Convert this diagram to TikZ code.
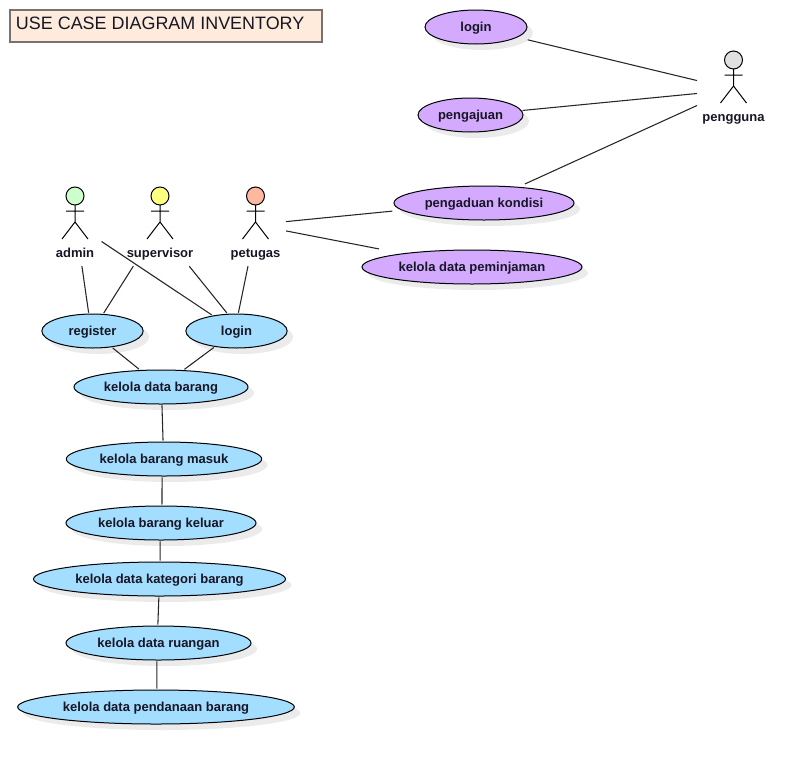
\documentclass[tikz,border=0pt]{standalone}
\usepackage{fontspec}
\setmainfont{Liberation Sans}
\usepackage{xcolor}
\usetikzlibrary{positioning,shapes.geometric,shadows}
\definecolor{caseblue}{HTML}{A3DDFF}
\definecolor{casepurple}{HTML}{D4AAFF}
\definecolor{titlefill}{HTML}{FFEBDC}
\definecolor{titleedge}{HTML}{7A7070}
\definecolor{headgreen}{HTML}{CCFFCC}
\definecolor{headyellow}{HTML}{FFFF80}
\definecolor{headred}{HTML}{FFB8A0}
\definecolor{headgray}{HTML}{E0E0E0}
\definecolor{inktext}{HTML}{161625}

\begin{document}
\begin{tikzpicture}[
  x=0.75pt,y=-0.75pt,
  usecase/.style={draw=black,ellipse,inner sep=0pt,outer sep=1pt,minimum height=25.5pt,line width=0.75pt,text height=8.5pt,text depth=2pt,font=\fontsize{9.75}{11}\selectfont\bfseries,text=inktext,drop shadow={shadow xshift=4.5pt,shadow yshift=-4.5pt,fill=black!8,opacity=1}},
  bluecase/.style={usecase,fill=caseblue},
  purplecase/.style={usecase,fill=casepurple},
  title/.style={draw=titleedge,fill=titlefill,rectangle,line width=1.5pt,minimum width=234pt,minimum height=24pt,inner sep=0pt,text height=11pt,text depth=5.5pt,font=\fontsize{13.45}{15}\selectfont,text=inktext},
  actorbox/.style={rectangle,inner sep=0pt,outer sep=0pt,minimum width=45.75pt,minimum height=41.25pt},
  actorname/.style={rectangle,inner sep=0pt,outer sep=0pt,minimum width=51pt,minimum height=19.5pt,text height=8.5pt,text depth=2pt,font=\fontsize{9.75}{11}\selectfont\bfseries,text=inktext},
  assoc/.style={line width=0.8pt,black!85},
  stick/.pic={
    \draw[line width=0.75pt,pic actions] (0,-18) circle (6.75pt);
    \draw[line width=0.75pt] (0,-9) -- (0,8) (-9,-3) -- (9,-3) (-13,25) -- (0,8) -- (13,25);
  }
]

% Title
\node[title] (header) at (166,26) {\makebox[225pt][l]{USE CASE DIAGRAM INVENTORY}};

% Actors
\node[actorbox] (adminfig) at (75,214) {};
\pic[fill=headgreen] at (75,214) {stick};
\node[actorname,below=-1pt of adminfig] (admin) {admin};
\node[actorbox] (supervisorfig) at (160,214) {};
\pic[fill=headyellow] at (160,214) {stick};
\node[actorname,below=-1pt of supervisorfig] (supervisor) {supervisor};
\node[actorbox] (petugasfig) at (255.5,214) {};
\pic[fill=headred] at (255.5,214) {stick};
\node[actorname,below=-1pt of petugasfig] (petugas) {petugas};
\node[actorbox,minimum width=54.75pt] (penggunafig) at (733.5,78) {};
\pic[fill=headgray] at (733.5,78) {stick};
\node[actorname,below=-1pt of penggunafig] (pengguna) {pengguna};

% Use cases of the staff
\node[bluecase,minimum width=76pt] (register) at (92.5,331) {register};
\node[bluecase,minimum width=76pt] (login) at (236.5,331) {login};
\node[bluecase,minimum width=130.5pt] (databarang) at (161,387) {kelola data barang};
\node[bluecase,minimum width=146.5pt] (masuk) at (164,459) {kelola barang masuk};
\node[bluecase,minimum width=142.5pt] (keluar) at (161,523) {kelola barang keluar};
\node[bluecase,minimum width=189pt] (kategori) at (159.5,579) {kelola data kategori barang};
\node[bluecase,minimum width=138.75pt] (ruangan) at (158.5,643) {kelola data ruangan};
\node[bluecase,minimum width=207.5pt] (pendanaan) at (156,707) {kelola data pendanaan barang};

% Use cases of the borrower
\node[purplecase,minimum width=76.5pt] (userlogin) at (476,27) {login};
\node[purplecase,minimum width=78.75pt] (pengajuan) at (470.5,115) {pengajuan};
\node[purplecase,minimum width=135pt] (pengaduan) at (484,203) {pengaduan kondisi};
\node[purplecase,minimum width=165pt] (peminjaman) at (472,267) {kelola data peminjaman};

% Associations
\draw[assoc] (admin.-62) -- (register.102);
\draw[assoc] (supervisor.-154) -- (register.58);
\draw[assoc] (adminfig.-46.6) -- (login.147);
\draw[assoc] (supervisor.-24) -- (login.118);
\draw[assoc] (petugas.-120) -- (login.84);
\draw[assoc,shorten >=6pt] (petugasfig.-14.7) -- (pengaduan.-175);
\draw[assoc,shorten >=16pt] (petugasfig.-29.1) -- (peminjaman.169);
\draw[assoc,shorten >=7pt] (penggunafig.-176.9) -- (userlogin.-14);
\draw[assoc] (penggunafig.-157.6) -- (pengajuan.5);
\draw[assoc,shorten >=4pt] (penggunafig.-143.5) -- (pengaduan.25);

\draw[assoc] (register.-40) -- (databarang.141);
\draw[assoc] (login.-144) -- (databarang.37);
\draw[assoc] (databarang.-87) -- (masuk.93);
\draw[assoc] (masuk.-96) -- (keluar.87);
\draw[assoc] (keluar.-93) -- (kategori.88);
\draw[assoc] (kategori.-92) -- (ruangan.92);
\draw[assoc] (ruangan.-95) -- (pendanaan.87);

\useasboundingbox (0,0) rectangle (809,764);
\end{tikzpicture}
\end{document}
